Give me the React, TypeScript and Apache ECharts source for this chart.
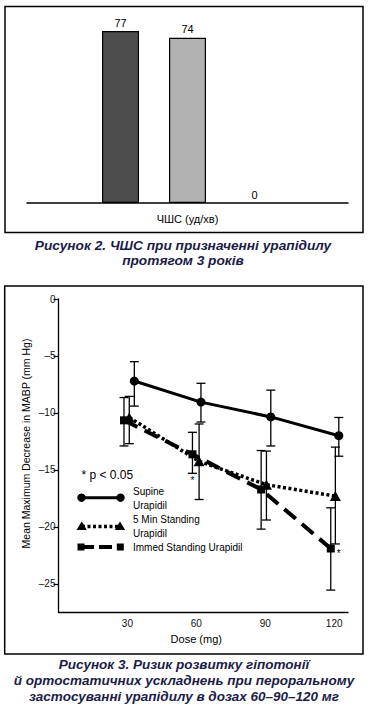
import { useEffect, useRef } from 'react';
import * as echarts from 'echarts';

// ---- Figure 2 data (heart rate) ----
const hrCategories = ['ЧШС (уд/хв)'];
const hrSeriesA = [77];
const hrSeriesB = [74];
const hrSeriesC = [0];

// ---- Figure 3 data (Mean Maximum Decrease in MABP) ----
const supineDose = [33, 62, 92.4, 122];
const supineMean = [-7.2, -9.05, -10.35, -12.0];
const supineLow = [-9.4, -10.8, -12.9, -13.8];
const supineHigh = [-5.5, -7.4, -8.0, -10.4];

const standing5Dose = [30.8, 61.2, 90.5, 120.5];
const standing5Mean = [-10.4, -14.25, -16.3, -17.3];
const standing5Low = [-12.7, -17.6, -19.4, -21.5];
const standing5High = [-8.55, -10.97, -13.35, -13.0];

const immedDose = [28.5, 58.3, 88.2, 118.5];
const immedMean = [-10.65, -13.63, -16.72, -21.9];
const immedLow = [-12.9, -15.3, -20.2, -25.55];
const immedHigh = [-8.65, -11.7, -13.3, -18.33];

const yTickValues = [0, -5, -10, -15, -20, -25];
const xTickValues = [30, 60, 90, 120];

const yAxisTitle = 'Mean Maximum Decrease in MABP (mm Hg)';
const xAxisTitle = 'Dose (mg)';

const caption2 = ['Рисунок 2. ЧШС при призначенні урапідилу', 'протягом 3 років'];
const caption3 = [
  'Рисунок 3. Ризик розвитку гіпотонії',
  'й ортостатичних ускладнень при пероральному',
  'застосуванні урапідилу в дозах 60–90–120 мг',
];

const FONT = '"Liberation Sans", Arial, Helvetica, sans-serif';

const errorBarItem = (params: any, api: any) => {
  const x = api.value(0);
  const lo = api.coord([x, api.value(1)]);
  const hi = api.coord([x, api.value(2)]);
  const hw = 4.5;
  const style = { stroke: '#000', lineWidth: 1.3, fill: 'none' };
  return {
    type: 'group',
    children: [
      { type: 'line', shape: { x1: lo[0], y1: lo[1], x2: hi[0], y2: hi[1] }, style },
      { type: 'line', shape: { x1: lo[0] - hw, y1: lo[1], x2: lo[0] + hw, y2: lo[1] }, style },
      { type: 'line', shape: { x1: hi[0] - hw, y1: hi[1], x2: hi[0] + hw, y2: hi[1] }, style },
    ],
  };
};

const zip2 = (a: number[], b: number[]) => a.map((v, i) => [v, b[i]]);
const zip3 = (a: number[], b: number[], c: number[]) => a.map((v, i) => [v, b[i], c[i]]);

export default function App() {
  const ref = useRef<HTMLDivElement>(null);

  useEffect(() => {
    if (!ref.current) return;
    const chart = echarts.init(ref.current, undefined, { renderer: 'svg' });

    const txt = (text: string, x: number, y: number, size: number, extra: any = {}, el: any = {}) => ({
      type: 'text',
      x,
      y,
      ...el,
      style: {
        text,
        fontSize: size,
        fontFamily: FONT,
        fill: '#000',
        align: 'left',
        verticalAlign: 'middle',
        ...extra,
      },
    });

    const captionStyle = {
      fontWeight: 'bold',
      fontStyle: 'italic',
      fill: '#1c1c48',
      align: 'center',
    };

    const immedData: any[] = zip2(immedDose, immedMean).map((d, i) => {
      if (i === 1) {
        return {
          value: d,
          label: { show: true, formatter: '*', position: 'bottom', distance: 17, fontSize: 10, fontFamily: FONT, color: '#000' },
        };
      }
      if (i === 3) {
        return {
          value: d,
          label: { show: true, formatter: '*', position: 'right', distance: 2, offset: [0, 5], fontSize: 10, fontFamily: FONT, color: '#000' },
        };
      }
      return d;
    });

    const option: any = {
      animation: false,
      backgroundColor: '#fff',
      textStyle: { fontFamily: FONT },
      grid: [
        { left: 27, width: 321, top: 24.4, height: 178.6 },
        { left: 58.5, width: 289.5, top: 299, height: 313.3 },
      ],
      xAxis: [
        {
          type: 'category',
          gridIndex: 0,
          data: hrCategories,
          axisLine: { lineStyle: { color: '#000', width: 1.5 } },
          axisTick: { show: false },
          axisLabel: { fontSize: 11, color: '#000', margin: 10, fontFamily: FONT },
        },
        {
          type: 'value',
          gridIndex: 1,
          min: 0,
          max: 126,
          axisLine: { show: true, onZero: false, lineStyle: { color: '#000', width: 1.3 } },
          axisTick: { show: false },
          splitLine: { show: false },
          axisLabel: { customValues: xTickValues, fontSize: 10, color: '#111', margin: 6, fontFamily: FONT },
          name: xAxisTitle,
          nameLocation: 'middle',
          nameGap: 21.5,
          nameTextStyle: { fontSize: 11, color: '#000', fontFamily: FONT, padding: [0, 14, 0, 0] },
        },
      ],
      yAxis: [
        { type: 'value', gridIndex: 0, min: 0, max: 80, show: false },
        {
          type: 'value',
          gridIndex: 1,
          min: -27.5,
          max: 0,
          axisLine: { show: true, onZero: false, lineStyle: { color: '#000', width: 1.3 } },
          axisTick: { show: true, customValues: yTickValues, length: 5, lineStyle: { color: '#000', width: 1.2 } },
          splitLine: { show: false },
          axisLabel: {
            customValues: yTickValues,
            fontSize: 10,
            color: '#111',
            margin: 3,
            fontFamily: FONT,
            formatter: (v: number) => String(v).replace('-', '–'),
          },
        },
      ],
      series: [
        {
          type: 'bar',
          xAxisIndex: 0,
          yAxisIndex: 0,
          data: hrSeriesA,
          barWidth: 37,
          barGap: '81%',
          itemStyle: { color: '#4d4d4d', borderColor: '#000', borderWidth: 1.2 },
          label: { show: true, position: 'top', distance: 3, fontSize: 11, color: '#000', fontFamily: FONT },
        },
        {
          type: 'bar',
          xAxisIndex: 0,
          yAxisIndex: 0,
          data: hrSeriesB,
          barWidth: 37,
          barGap: '81%',
          itemStyle: { color: '#b2b2b2', borderColor: '#000', borderWidth: 1.2 },
          label: { show: true, position: 'top', distance: 3, fontSize: 11, color: '#000', fontFamily: FONT },
        },
        {
          type: 'bar',
          xAxisIndex: 0,
          yAxisIndex: 0,
          data: hrSeriesC,
          barWidth: 37,
          barGap: '81%',
          itemStyle: { color: '#ffffff', borderColor: '#000', borderWidth: 0 },
          label: { show: true, position: 'top', distance: 3, fontSize: 11, color: '#000', fontFamily: FONT },
        },
        {
          type: 'custom',
          xAxisIndex: 1,
          yAxisIndex: 1,
          renderItem: errorBarItem,
          encode: { x: 0, y: [1, 2] },
          data: zip3(supineDose, supineLow, supineHigh),
          z: 1,
        },
        {
          type: 'custom',
          xAxisIndex: 1,
          yAxisIndex: 1,
          renderItem: errorBarItem,
          encode: { x: 0, y: [1, 2] },
          data: zip3(standing5Dose, standing5Low, standing5High),
          z: 1,
        },
        {
          type: 'custom',
          xAxisIndex: 1,
          yAxisIndex: 1,
          renderItem: errorBarItem,
          encode: { x: 0, y: [1, 2] },
          data: zip3(immedDose, immedLow, immedHigh),
          z: 1,
        },
        {
          name: 'Supine Urapidil',
          type: 'line',
          xAxisIndex: 1,
          yAxisIndex: 1,
          data: zip2(supineDose, supineMean),
          symbol: 'circle',
          symbolSize: 9,
          lineStyle: { color: '#000', width: 3 },
          itemStyle: { color: '#000' },
          z: 3,
        },
        {
          name: '5 Min Standing Urapidil',
          type: 'line',
          xAxisIndex: 1,
          yAxisIndex: 1,
          data: zip2(standing5Dose, standing5Mean),
          symbol: 'triangle',
          symbolSize: [11, 10],
          lineStyle: { color: '#000', width: 3.5, type: [3, 2.5] },
          itemStyle: { color: '#000' },
          z: 3,
        },
        {
          name: 'Immed Standing Urapidil',
          type: 'line',
          xAxisIndex: 1,
          yAxisIndex: 1,
          data: immedData,
          symbol: 'rect',
          symbolSize: 8,
          lineStyle: { color: '#000', width: 4, type: [15, 8] },
          itemStyle: { color: '#000' },
          z: 3,
        },
      ],
      graphic: [
        // frames
        { type: 'rect', shape: { x: 5, y: 6.5, width: 358, height: 226 }, style: { fill: 'none', stroke: '#000', lineWidth: 1.5 }, z: 0 },
        { type: 'rect', shape: { x: 4.7, y: 286, width: 358.3, height: 368 }, style: { fill: 'none', stroke: '#000', lineWidth: 1.5 }, z: 0 },
        // captions
        txt(caption2[0], 183, 245.7, 13.7, captionStyle),
        txt(caption2[1], 183, 260.7, 13.7, captionStyle),
        txt(caption3[0], 184, 664.3, 13.5, captionStyle),
        txt(caption3[1], 184, 680.5, 13.5, captionStyle),
        txt(caption3[2], 184, 696, 13.5, captionStyle),
        // y-axis title
        txt(yAxisTitle, 26, 443.5, 10.5, { align: 'center' }, { rotation: Math.PI / 2 }),
        // legend
        txt('* p < 0.05', 81.5, 475, 12),
        { type: 'line', shape: { x1: 81.5, y1: 497.7, x2: 120.5, y2: 497.7 }, style: { stroke: '#000', lineWidth: 3 } },
        { type: 'circle', shape: { cx: 81.5, cy: 497.7, r: 4.2 }, style: { fill: '#000' } },
        { type: 'circle', shape: { cx: 120.5, cy: 497.7, r: 4.2 }, style: { fill: '#000' } },
        txt('Supine', 133, 491, 10),
        txt('Urapidil', 133, 505, 10),
        { type: 'line', shape: { x1: 82, y1: 526.5, x2: 120, y2: 526.5 }, style: { stroke: '#000', lineWidth: 3.5, lineDash: [3, 2.5] } },
        { type: 'polygon', shape: { points: [[81.7, 521.5], [76.5, 530], [86.9, 530]] }, style: { fill: '#000' } },
        { type: 'polygon', shape: { points: [[120, 521.5], [114.8, 530], [125.2, 530]] }, style: { fill: '#000' } },
        txt('5 Min Standing', 133, 519, 10),
        txt('Urapidil', 133, 533, 10),
        { type: 'line', shape: { x1: 81, y1: 547, x2: 120.3, y2: 547 }, style: { stroke: '#000', lineWidth: 4, lineDash: [13, 5] } },
        { type: 'rect', shape: { x: 77.5, y: 543.5, width: 7, height: 7 }, style: { fill: '#000' } },
        { type: 'rect', shape: { x: 116.8, y: 543.5, width: 7, height: 7 }, style: { fill: '#000' } },
        txt('Immed Standing Urapidil', 133, 547, 10),
      ],
    };

    chart.setOption(option);
    return () => chart.dispose();
  }, []);

  return (
    <div
      ref={ref}
      style={{ position: 'absolute', left: 0, top: 0, width: 371, height: 709, background: '#fff' }}
    />
  );
}
